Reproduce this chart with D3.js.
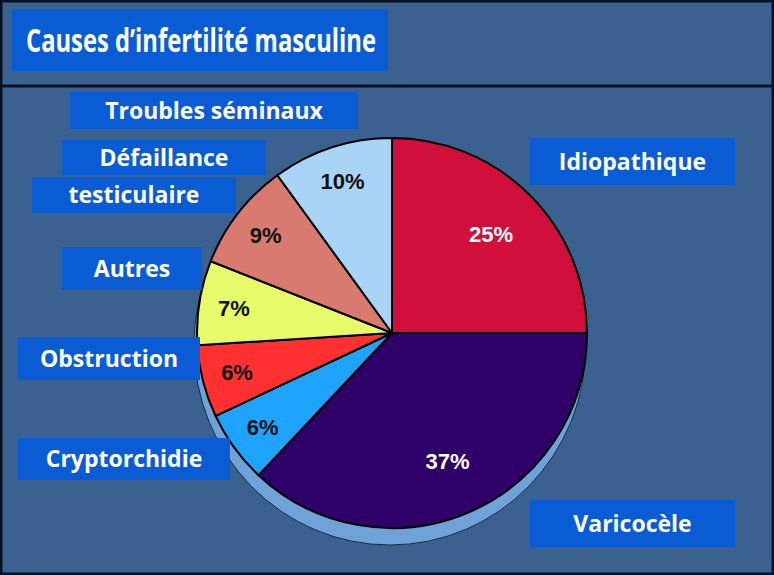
<!DOCTYPE html>
<html><head><meta charset="utf-8">
<script src="https://cdn.jsdelivr.net/npm/d3@7"></script>
<style>body{margin:0;background:#3a6190}svg{display:block}</style>
</head><body>
<script>
var causes = ["Idiopathique", "Varicocèle", "Cryptorchidie", "Obstruction", "Autres", "Défaillance testiculaire", "Troubles séminaux"];
var values = [25, 37, 6, 6, 7, 9, 10];
var colors = ["#d0103a", "#2e0068", "#1ea4ff", "#ff3030", "#e6fa6a", "#d87a70", "#aad4f6"];
var pctColors = ["#fff", "#fff", "#111", "#111", "#111", "#111", "#111"];

// label boxes: [text, x, y, w, h]
var boxes = [
  ["Troubles séminaux", 70, 92, 288, 37],
  ["Défaillance", 62, 140, 204, 35],
  ["testiculaire", 32, 177, 204, 36],
  ["Autres", 62, 247, 140, 43],
  ["Obstruction", 18, 337, 182, 43],
  ["Cryptorchidie", 18, 438, 212, 42],
  ["Idiopathique", 530, 138, 205, 47],
  ["Varicocèle", 530, 500, 205, 47]
];

var width = 774, height = 575;
var svg = d3.select("body").append("svg").attr("width", width).attr("height", height);

svg.append("rect").attr("x", 1).attr("y", 1).attr("width", width - 2).attr("height", height - 2)
  .attr("fill", "#3a6190").attr("stroke", "#0a1020").attr("stroke-width", 3);
svg.append("line").attr("x1", 0).attr("x2", width).attr("y1", 86).attr("y2", 86)
  .attr("stroke", "#0a1020").attr("stroke-width", 3);

// title
svg.append("rect").attr("x", 12).attr("y", 9).attr("width", 376).attr("height", 62).attr("fill", "#0a5cd4");
svg.append("text").attr("x", 26).attr("y", 52).attr("fill", "#fff")
  .style("font", "bold 32px 'Open Sans', sans-serif")
  .attr("textLength", 350).attr("lengthAdjust", "spacingAndGlyphs")
  .text("Causes d’infertilité masculine");

var cx = 392, cy = 333, r = 195;
var pie = d3.pie().sort(null).value(function(d) { return d; });
var arcs = pie(values);
var arc = d3.arc().innerRadius(0).outerRadius(r);

var g = svg.append("g").attr("transform", "translate(" + cx + "," + cy + ")");

// shadow rim at the bottom
g.append("ellipse").attr("cx", -2).attr("cy", 12).attr("rx", r + 1).attr("ry", r + 5)
  .attr("fill", "#6ea2d8").attr("stroke", "#1a2a40").attr("stroke-width", 1);

g.selectAll(".slice").data(arcs).enter().append("path")
  .attr("class", "slice")
  .attr("d", arc)
  .attr("fill", function(d, i) { return colors[i]; })
  .attr("stroke", "#000").attr("stroke-width", 2);

var labelArcBig = d3.arc().innerRadius(140).outerRadius(140);
var labelArcSmall = d3.arc().innerRadius(160).outerRadius(160);
g.selectAll(".pct").data(arcs).enter().append("text")
  .attr("class", "pct")
  .attr("transform", function(d) {
    var a = d.value > 20 ? labelArcBig : labelArcSmall;
    return "translate(" + a.centroid(d) + ")";
  })
  .attr("text-anchor", "middle").attr("dy", "0.35em")
  .attr("fill", function(d, i) { return pctColors[i]; })
  .style("font", "bold 22px 'Liberation Sans', Arial, sans-serif")
  .text(function(d) { return d.value + "%"; });

var lb = svg.selectAll(".lab").data(boxes).enter().append("g").attr("class", "lab");
lb.append("rect")
  .attr("x", function(d) { return d[1]; }).attr("y", function(d) { return d[2]; })
  .attr("width", function(d) { return d[3]; }).attr("height", function(d) { return d[4]; })
  .attr("fill", "#0a5cd4");
lb.append("text")
  .attr("x", function(d) { return d[1] + d[3] / 2; })
  .attr("y", function(d) { return d[2] + d[4] / 2; })
  .attr("dy", "0.36em").attr("text-anchor", "middle").attr("fill", "#fff")
  .style("font", "bold 23px 'Open Sans', sans-serif")
  .text(function(d) { return d[0]; });
</script>
</body></html>
